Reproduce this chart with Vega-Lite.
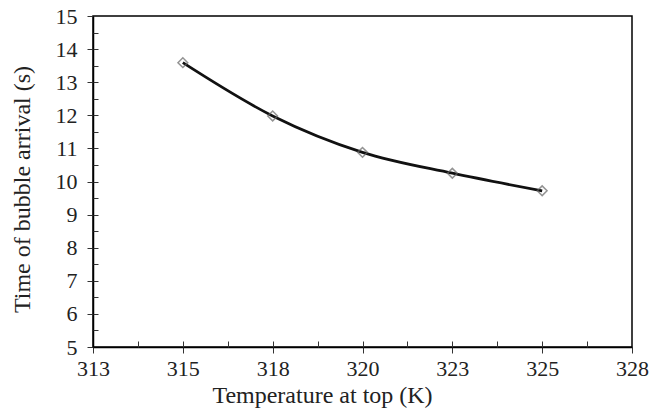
{
  "$schema": "https://vega.github.io/schema/vega-lite/v6.json",
  "autosize": {"type": "none"},
  "width": 539,
  "height": 331,
  "padding": {"left": 93, "top": 16, "right": 20, "bottom": 71},
  "background": "white",
  "config": {
    "view": {"stroke": "black", "strokeWidth": 1.5},
    "font": "Liberation Serif",
    "axis": {
      "labelFont": "Liberation Serif",
      "titleFont": "Liberation Serif",
      "labelFontSize": 22,
      "titleFontSize": 24,
      "labelColor": "#222",
      "titleColor": "#222",
      "titleFontWeight": "normal",
      "domainColor": "black",
      "domainWidth": 1.5,
      "tickColor": "#333",
      "tickWidth": 1,
      "labelFlush": false,
      "labelOverlap": false,
      "grid": false
    }
  },
  "data": {
    "values": [
      {"T": 315, "t": 13.59},
      {"T": 317.5, "t": 11.98},
      {"T": 320, "t": 10.88},
      {"T": 322.5, "t": 10.25},
      {"T": 325, "t": 9.72}
    ]
  },
  "encoding": {
    "x": {
      "field": "T",
      "type": "quantitative",
      "scale": {"domain": [312.5, 327.5], "nice": false, "zero": false}
    },
    "y": {
      "field": "t",
      "type": "quantitative",
      "scale": {"domain": [5, 15], "nice": false, "zero": false}
    }
  },
  "layer": [
    {
      "mark": {"type": "line", "interpolate": "monotone", "color": "#111", "strokeWidth": 2.8},
      "encoding": {
        "x": {
          "field": "T",
          "type": "quantitative",
          "axis": {
            "title": "Temperature at top (K)",
            "values": [312.5, 315, 317.5, 320, 322.5, 325, 327.5],
            "format": ".0f",
            "tickSize": 6,
            "labelPadding": 5,
            "titlePadding": 4,
            "titleX": 229
          }
        },
        "y": {
          "field": "t",
          "type": "quantitative",
          "axis": {
            "title": "Time of bubble arrival (s)",
            "values": [5, 6, 7, 8, 9, 10, 11, 12, 13, 14, 15],
            "tickSize": 6,
            "labelPadding": 10,
            "titlePadding": 21,
            "titleY": 173
          }
        }
      }
    },
    {
      "mark": {"type": "point", "shape": "diamond", "filled": false, "color": "#666", "strokeWidth": 1.5, "size": 95},
      "encoding": {
        "x": {
          "field": "T",
          "type": "quantitative",
          "axis": {
            "orient": "bottom",
            "title": null,
            "labels": false,
            "domain": false,
            "values": [313.75, 316.25, 318.75, 321.25, 323.75, 326.25, 315, 317.5, 320, 322.5, 325],
            "tickSize": -6
          }
        },
        "y": {
          "field": "t",
          "type": "quantitative",
          "axis": {
            "orient": "left",
            "title": null,
            "labels": false,
            "domain": false,
            "values": [5.5, 6.5, 7.5, 8.5, 9.5, 10.5, 11.5, 12.5, 13.5, 14.5, 6, 7, 8, 9, 10, 11, 12, 13, 14],
            "tickSize": -5
          }
        }
      }
    }
  ],
  "resolve": {"axis": {"x": "independent", "y": "independent"}}
}
